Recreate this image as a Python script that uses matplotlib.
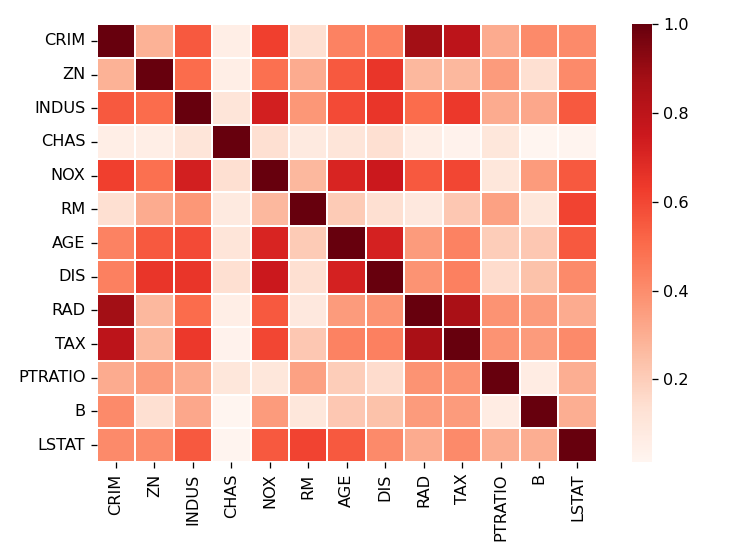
import numpy as np
import pandas as pd
import matplotlib
matplotlib.use("Agg")
import matplotlib.pyplot as plt
import seaborn as sns

labels = ['CRIM', 'ZN', 'INDUS', 'CHAS', 'NOX', 'RM', 'AGE', 'DIS',
          'RAD', 'TAX', 'PTRATIO', 'B', 'LSTAT']

# absolute correlations (upper triangle incl. diagonal)
row_crim    = [1.00, 0.29, 0.55, 0.06, 0.62, 0.14, 0.43, 0.44, 0.88, 0.80, 0.31, 0.41, 0.41]
row_zn      = [1.00, 0.50, 0.06, 0.49, 0.31, 0.55, 0.65, 0.27, 0.27, 0.36, 0.14, 0.41]
row_indus   = [1.00, 0.11, 0.73, 0.37, 0.59, 0.65, 0.50, 0.64, 0.31, 0.32, 0.55]
row_chas    = [1.00, 0.14, 0.08, 0.11, 0.14, 0.06, 0.03, 0.10, 0.014, 0.02]
row_nox     = [1.00, 0.27, 0.71, 0.75, 0.55, 0.60, 0.10, 0.36, 0.55]
row_rm      = [1.00, 0.21, 0.14, 0.09, 0.22, 0.34, 0.10, 0.61]
row_age     = [1.00, 0.72, 0.36, 0.43, 0.20, 0.22, 0.55]
row_dis     = [1.00, 0.38, 0.44, 0.15, 0.24, 0.41]
row_rad     = [1.00, 0.86, 0.38, 0.36, 0.31]
row_tax     = [1.00, 0.38, 0.36, 0.41]
row_ptratio = [1.00, 0.07, 0.30]
row_b       = [1.00, 0.30]
row_lstat   = [1.00]

rows = [row_crim, row_zn, row_indus, row_chas, row_nox, row_rm, row_age,
        row_dis, row_rad, row_tax, row_ptratio, row_b, row_lstat]
n = len(labels)
corr = np.zeros((n, n))
for i, r in enumerate(rows):
    corr[i, i:] = r
    corr[i:, i] = r
corr = pd.DataFrame(corr, index=labels, columns=labels)

fig = plt.figure(figsize=(6.4, 4.8), dpi=116.25)
ax = fig.add_axes([0.130, 0.172, 0.672, 0.785])
cax = fig.add_axes([0.849, 0.172, 0.027, 0.785])

sns.heatmap(corr, cmap='Reds', linewidths=1.2, linecolor='white',
            ax=ax, cbar_ax=cax)
cax.set_yticks([0.2, 0.4, 0.6, 0.8, 1.0])

fig.savefig('out.png', dpi=116.25)
